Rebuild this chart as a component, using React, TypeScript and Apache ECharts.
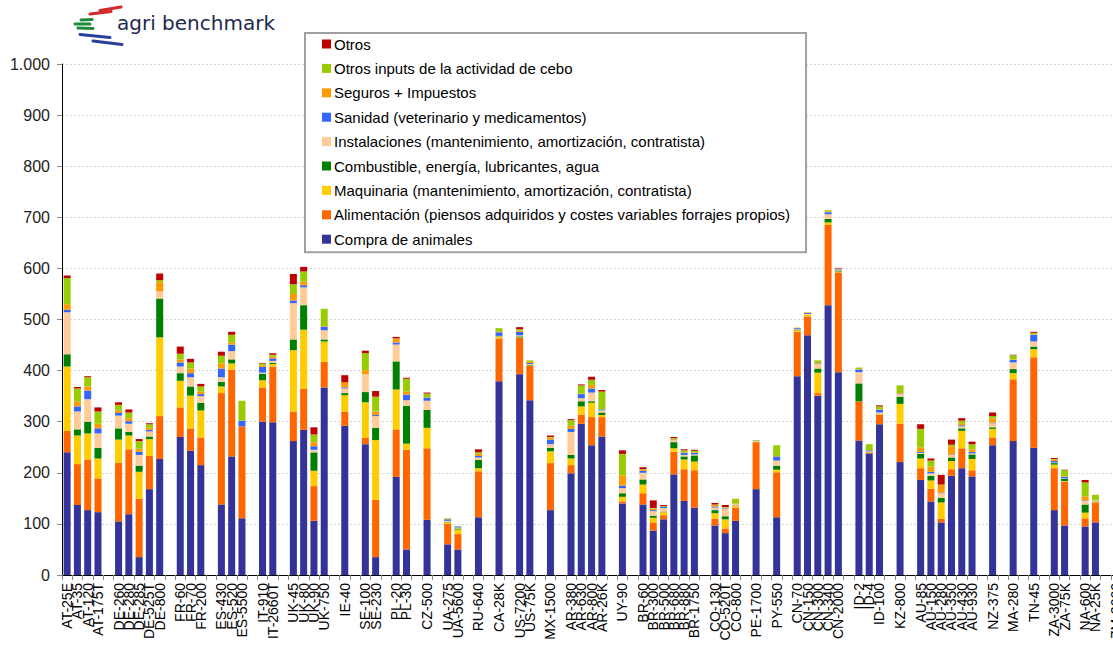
import React, { useEffect, useRef } from "react";
import * as echarts from "echarts";

// Farm groups (a blank category separates each country)
const groups: string[][] = [
  ["AT-25E", "AT-35", "AT-120", "AT-175T"],
  ["DE-260", "DE-280", "DE-285", "DE-525T", "DE-800"],
  ["FR-60", "FR-70", "FR-200"],
  ["ES-430", "ES-520", "ES-5500"],
  ["IT-910", "IT-2660T"],
  ["UK-45", "UK-80", "UK-90", "UK-750"],
  ["IE-40"],
  ["SE-100", "SE-230"],
  ["PL-20", "PL-30"],
  ["CZ-500"],
  ["UA-275", "UA-5600"],
  ["RU-640"],
  ["CA-28K"],
  ["US-7200", "US-75K"],
  ["MX-1500"],
  ["AR-380", "AR-630", "AR-800", "AR-26K"],
  ["UY-90"],
  ["BR-60", "BR-300", "BR-500", "BR-680", "BR-880", "BR-1750"],
  ["CO-130", "CO-520T", "CO-800"],
  ["PE-1700"],
  ["PY-550"],
  ["CN-70", "CN-150", "CN-300", "CN-340", "CN-2000"],
  ["ID-2", "ID-4", "ID-100"],
  ["KZ-800"],
  ["AU-85", "AU-150", "AU-280", "AU-350", "AU-430", "AU-930"],
  ["NZ-375"],
  ["MA-280"],
  ["TN-45"],
  ["ZA-3000", "ZA-75K"],
  ["NA-600", "NA-25K"],
  ["ZM-2000"],
];

// Values per farm (€/100 kg), in the order of the farms above
const compra = [240, 137, 127, 123, 105, 119, 35, 168, 227, 270, 243, 215, 138, 232, 111, 300, 299, 262, 284, 106, 367, 292, 256, 35, 192, 50, 108, 60, 50, 113, 379, 393, 342, 127, 199, 296, 254, 271, 140, 138, 87, 109, 197, 145, 132, 97, 82, 106, 168, 113, 389, 469, 351, 528, 397, 263, 238, 295, 221, 186, 144, 103, 194, 209, 193, 254, 262, 249, 127, 97, 95, 103, null];
const alimentacion = [42, 80, 99, 66, 115, 127, 114, 65, 84, 58, 44, 54, 218, 170, 180, 67, 109, 58, 80, 68, 50, 28, 13, 112, 93, 195, 140, 40, 30, 90, 84, 71, 67, 92, 16, 18, 55, 38, 4, 22, 16, 8, 44, 62, 73, 13, 9, 26, 92, 88, 87, 37, 5, 157, 195, 77, 2, 19, 75, 23, 25, 7, 13, 39, 12, 15, 121, 177, 82, 86, 16, 39, null];
const maquinaria = [126, 56, 51, 39, 45, 27, 53, 33, 154, 52, 64, 53, 13, 12, 0, 14, 5, 120, 116, 30, 40, 32, 69, 117, 78, 12, 40, 3, 9, 6, 3, 1, 1, 23, 13, 16, 28, 4, 9, 17, 9, 6, 7, 19, 17, 11, 18, 3, 1, 5, 3, 4, 40, 5, 2, 0, 1, 1, 39, 19, 16, 32, 16, 34, 22, 17, 12, 16, 7, 1, 11, 1, null];
const combustible = [24, 12, 23, 21, 22, 7, 12, 5, 76, 15, 18, 15, 9, 8, 0, 13, 2, 21, 48, 36, 4, 4, 20, 24, 55, 74, 35, 1, 2, 16, 1, 2, 1, 7, 7, 10, 3, 5, 7, 10, 4, 1, 12, 6, 12, 6, 6, 1, 0, 8, 1, 0, 8, 7, 2, 35, 0, 0, 14, 9, 9, 9, 7, 5, 9, 3, 8, 5, 3, 4, 16, 1, null];
const instalaciones = [82, 35, 44, 28, 25, 16, 21, 10, 14, 13, 18, 13, 9, 16, 0, 2, 4, 71, 35, 5, 18, 9, 35, 23, 33, 11, 18, 2, 2, 5, 1, 2, 2, 7, 45, 6, 17, 4, 10, 13, 9, 7, 4, 3, 2, 5, 15, 3, 1, 10, 1, 1, 9, 9, 2, 22, 1, 3, 5, 2, 5, 9, 5, 4, 2, 8, 13, 10, 1, 1, 7, 2, null];
const sanidad = [5, 10, 17, 10, 5, 5, 6, 3, 0, 8, 8, 4, 17, 13, 11, 11, 5, 5, 4, 7, 7, 2, 0, 2, 4, 11, 6, 3, 2, 3, 7, 7, 2, 9, 6, 8, 8, 2, 5, 4, 2, 3, 1, 4, 3, 2, 1, 0, 1, 8, 2, 2, 1, 4, 1, 5, 2, 5, 1, 2, 3, 1, 1, 2, 3, 1, 5, 13, 3, 3, 1, 0, null];
const seguros = [11, 10, 8, 9, 5, 6, 6, 4, 18, 6, 9, 5, 10, 4, 0, 3, 4, 13, 7, 8, 1, 10, 8, 7, 7, 6, 1, 1, 0, 4, 1, 2, 2, 4, 6, 1, 7, 0, 20, 2, 3, 0, 1, 1, 1, 3, 1, 1, 0, 1, 1, 1, 1, 1, 1, 1, 0, 1, 1, 9, 10, 15, 16, 4, 5, 8, 1, 1, 3, 1, 8, 1, null];
const otrosInputs = [51, 25, 18, 24, 11, 11, 15, 7, 4, 11, 12, 10, 15, 15, 39, 4, 3, 19, 20, 15, 34, 0, 33, 29, 1, 25, 7, 1, 1, 3, 7, 3, 3, 1, 11, 16, 10, 35, 42, 1, 1, 1, 2, 4, 3, 1, 1, 9, 1, 21, 0, 0, 5, 3, 0, 3, 12, 6, 15, 36, 12, 1, 3, 5, 10, 5, 8, 3, 1, 12, 27, 10, null];
const otros = [5, 3, 2, 8, 5, 6, 4, 2, 13, 14, 7, 5, 8, 6, 0, 1, 3, 20, 9, 14, 0, 14, 5, 11, 3, 2, 2, 0, 0, 6, 0, 4, 0, 3, 2, 2, 6, 3, 7, 4, 15, 2, 2, 2, 2, 3, 4, 0, 0, 0, 0, 0, 0, 0, 1, 0, 0, 2, 0, 9, 4, 19, 10, 5, 5, 7, 1, 2, 2, 1, 5, 0, null];

const seriesNames = [
  "Compra de animales",
  "Alimentación (piensos adquiridos y costes variables forrajes propios)",
  "Maquinaria (mantenimiento, amortización, contratista)",
  "Combustible, energía, lubricantes, agua",
  "Instalaciones (mantenimiento, amortización, contratista)",
  "Sanidad (veterinario y medicamentos)",
  "Seguros + Impuestos",
  "Otros inputs de la actividad de cebo",
  "Otros",
];
const seriesColors = ["#333399", "#FF6600", "#FFCC00", "#008000", "#FFCC99", "#3366FF", "#FF9900", "#99CC00", "#C00000"];
const seriesValues = [compra, alimentacion, maquinaria, combustible, instalaciones, sanidad, seguros, otrosInputs, otros];

const yTicks = { min: 0, max: 1000, step: 100 };

function buildCategories(): string[] {
  const out: string[] = [];
  groups.forEach((g, gi) => {
    if (gi > 0) out.push("");
    g.forEach((n) => out.push(n));
  });
  return out;
}
function expand(vals: (number | null)[]): (number | null)[] {
  const out: (number | null)[] = [];
  let k = 0;
  groups.forEach((g, gi) => {
    if (gi > 0) out.push(null);
    g.forEach(() => {
      out.push(vals[k] ?? null);
      k++;
    });
  });
  return out;
}

const FONT = "'Liberation Sans', Arial, sans-serif";

export default function App() {
  const ref = useRef<HTMLDivElement>(null);
  useEffect(() => {
    if (!ref.current) return;
    const chart = echarts.init(ref.current, undefined, { renderer: "svg" });
    const cats = buildCategories();
    const series = seriesNames.map((name, i) => ({
      name,
      type: "bar",
      stack: "total",
      barWidth: 7,
      data: expand(seriesValues[i]),
      itemStyle: { color: seriesColors[i] },
      emphasis: { disabled: true },
    }));
    const stripe = (x1: number, y1: number, x2: number, y2: number, color: string) => ({
      type: "line",
      shape: { x1, y1, x2, y2 },
      style: { stroke: color, lineWidth: 3, lineCap: "round" },
    });
    chart.setOption({
      animation: false,
      backgroundColor: "#ffffff",
      grid: { left: 62, right: 0, top: 64, bottom: 77 },
      legend: {
        orient: "vertical",
        left: 305,
        top: 33,
        data: seriesNames.slice().reverse(),
        icon: "rect",
        itemWidth: 9,
        itemHeight: 9,
        itemGap: 8.4,
        padding: [3, 16, 5, 17],
        backgroundColor: "#ffffff",
        borderColor: "#a0a0a0",
        borderWidth: 2,
        selectedMode: false,
        z: 10,
        textStyle: { fontSize: 15, color: "#000", fontFamily: FONT, lineHeight: 16, padding: [0, 0, 0, -2] },
      },
      xAxis: {
        type: "category",
        data: cats,
        boundaryGap: true,
        axisLine: { lineStyle: { color: "#000", width: 1 } },
        axisTick: { show: true, interval: 0, length: 5, lineStyle: { color: "#888" } },
        axisLabel: { rotate: 90, interval: 0, fontSize: 14, color: "#000", margin: 8, fontFamily: FONT },
        splitLine: { show: false },
      },
      yAxis: {
        type: "value",
        min: yTicks.min,
        max: yTicks.max,
        interval: yTicks.step,
        axisLine: { show: true, lineStyle: { color: "#000", width: 1 } },
        axisTick: { show: true, length: 5, lineStyle: { color: "#888" } },
        axisLabel: {
          fontSize: 16,
          color: "#222",
          margin: 12,
          fontFamily: FONT,
          formatter: (v: number) => (v >= 1000 ? String(v).replace(/(\d)(\d{3})$/, "$1.$2") : String(v)),
        },
        splitLine: { show: true, lineStyle: { color: "#d6d6d6", type: [2, 2] } },
      },
      graphic: [
        stripe(100, 10.5, 121, 7, "#d42a2a"),
        stripe(90, 14, 111, 11.5, "#d42a2a"),
        stripe(81, 20, 92, 19.5, "#1f8a3a"),
        stripe(75, 24, 90, 24, "#1f8a3a"),
        stripe(78, 28, 93, 28.5, "#1f8a3a"),
        stripe(80, 34.5, 110, 37.5, "#2c3f9c"),
        stripe(93, 41, 122, 44.5, "#2c3f9c"),
        {
          type: "text",
          left: 117,
          top: 13,
          style: { text: "agri benchmark", font: "20px 'DejaVu Sans', sans-serif", fill: "#1c2a4e" },
        },
      ],
      series,
    });
    return () => chart.dispose();
  }, []);
  return (
    <div style={{ position: "fixed", left: 0, top: 0, width: 1113, height: 652, overflow: "hidden", background: "#fff" }}>
      <div ref={ref} style={{ position: "absolute", left: 0, top: 0, width: 1123, height: 652 }} />
    </div>
  );
}
